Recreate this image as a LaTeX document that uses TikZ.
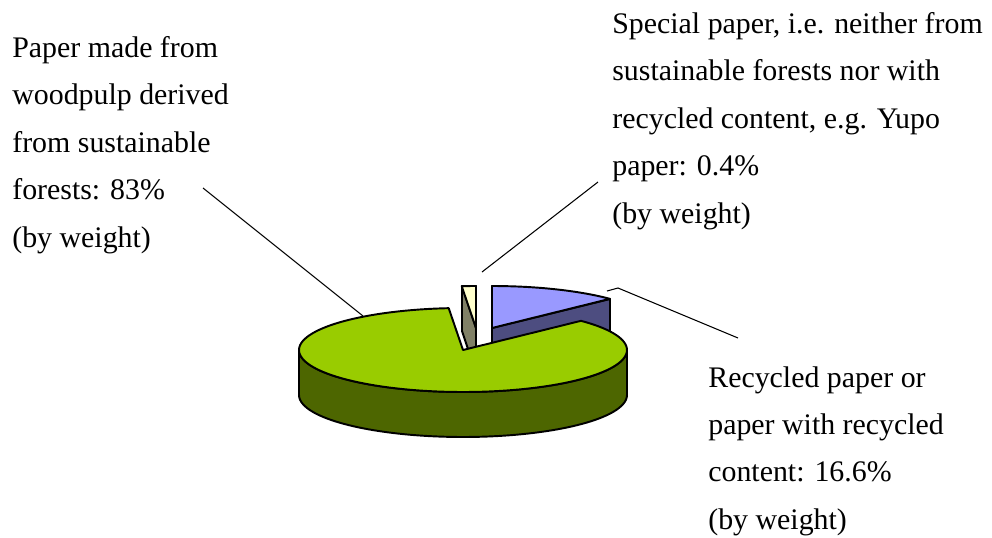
\documentclass[tikz,border=0pt]{standalone}
\usepackage{fontspec}
\setmainfont{Liberation Serif}

\definecolor{woodTop}{RGB}{153,204,0}
\definecolor{woodSide}{RGB}{77,102,0}
\definecolor{recyTop}{RGB}{153,153,255}
\definecolor{recySide}{RGB}{77,77,128}
\definecolor{specTop}{RGB}{255,255,204}
\definecolor{specSide}{RGB}{128,128,102}

\begin{document}
\begin{tikzpicture}[x=0.02cm, y=-0.02cm,
    slice/.style={draw=black, line width=1.1pt, line join=round},
    leader/.style={draw=black, line width=0.6pt},
    sharetext/.style={anchor=north west, inner sep=0pt, align=left,
      font=\fontsize{17}{27}\selectfont}]
      \useasboundingbox (0,0) rectangle (992,538);

      % RecycledSlice:
      %   16.6%, pulled out to the back right
      \path[slice, fill=recySide] (492,328) -- (610,299) -- (610,344) -- (492,373) -- cycle;
      \path[slice, fill=recyTop] (492,328)
        -- plot[domain=90:44, samples=30] ({492+164*cos(\x)},{328-42*sin(\x)}) -- cycle;

      % SpecialSlice:
      %   0.4%, the thin sliver at the top
      \path[slice, fill=specSide] (476,328) -- (462,286) -- (462,331) -- (476,373) -- cycle;
      \path[slice, fill=specTop] (476,328)
        -- plot[domain=95:90, samples=4] ({476+164*cos(\x)},{328-42*sin(\x)}) -- cycle;

      % WoodSlice:
      %   83%, front rim first, then the top
      \path[slice, fill=woodSide]
        plot[domain=180:360, samples=80] ({463+164*cos(\x)},{350-42*sin(\x)})
        -- plot[domain=360:180, samples=80] ({463+164*cos(\x)},{395-42*sin(\x)}) -- cycle;
      \path[slice, fill=woodTop] (463,350)
        -- plot[domain=95:404, samples=120] ({463+164*cos(\x)},{350-42*sin(\x)}) -- cycle;

      % labels
      \node[sharetext] (wood) at (12,36) {Paper made from\\woodpulp derived\\from sustainable\\forests: 83\%\\(by weight)};
      \node[sharetext] (spec) at (612,12) {Special paper, i.e. neither from\\sustainable forests nor with\\recycled content, e.g. Yupo\\paper: 0.4\%\\(by weight)};
      \node[sharetext] (recy) at (708,366) {Recycled paper or\\paper with recycled\\content: 16.6\%\\(by weight)};

      % leader lines
      \coordinate (woodEnd) at (203,188);
      \coordinate (woodTip) at (363,316);
      \coordinate (specEnd) at (598,182);
      \coordinate (specTip) at (482,272);
      \coordinate (recyTip) at (607,291);
      \coordinate (recyBend) at (618,288);
      \coordinate (recyEnd) at (738,338);
      \draw[leader] (woodEnd) -- (woodTip);
      \draw[leader] (specEnd) -- (specTip);
      \draw[leader] (recyTip) -- (recyBend) -- (recyEnd);
\end{tikzpicture}
\end{document}
